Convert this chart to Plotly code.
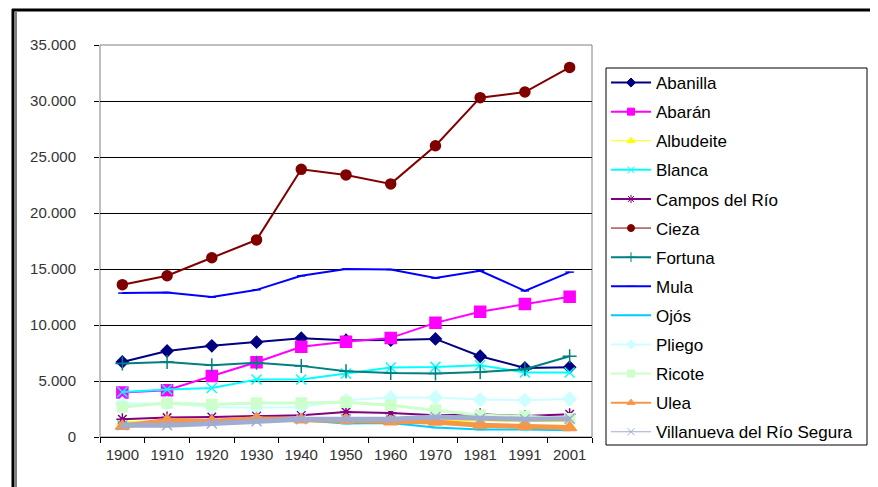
import plotly.graph_objects as go

years = ["1900", "1910", "1920", "1930", "1940", "1950", "1960", "1970", "1981", "1991", "2001"]

abanilla = [6700, 7680, 8140, 8470, 8820, 8640, 8650, 8760, 7210, 6170, 6230]
abaran = [3970, 4175, 5450, 6680, 8050, 8500, 8850, 10190, 11180, 11870, 12530]
albudeite = [1350, 1400, 1450, 1500, 1550, 1600, 1550, 1500, 1450, 1400, 1400]
blanca = [4020, 4240, 4380, 5130, 5130, 5670, 6200, 6260, 6410, 5760, 5760]
campos = [1580, 1730, 1790, 1880, 1940, 2240, 2150, 1940, 2030, 1880, 2030]
cieza = [13600, 14400, 16000, 17600, 23900, 23400, 22600, 26000, 30300, 30800, 33000]
fortuna = [6560, 6700, 6410, 6640, 6350, 5870, 5720, 5670, 5810, 6050, 7210]
mula = [12850, 12900, 12490, 13140, 14390, 15000, 14950, 14190, 14840, 13050, 14720]
ojos = [1200, 1150, 1200, 1340, 1490, 1200, 1250, 840, 660, 660, 600]
pliego = [2990, 3000, 2680, 2620, 2680, 3280, 3520, 3520, 3340, 3280, 3400]
ricote = [2680, 3040, 2900, 3040, 3040, 3100, 2830, 2390, 1940, 1850, 1640]
ulea = [960, 1490, 1400, 1640, 1550, 1490, 1370, 1340, 1045, 960, 840]
villanueva = [1045, 1045, 1200, 1400, 1580, 1580, 1580, 1790, 1640, 1580, 1640]

# name, values, colour, symbol, marker size, line width (chart), line width (legend)
series = [
    ("Abanilla", abanilla, "#000080", "diamond", 9, 2, 2),
    ("Abarán", abaran, "#FF00FF", "square", 11, 2, 2),
    ("Albudeite", albudeite, "#FFFF00", "triangle-up", 9, 2, 1),
    ("Blanca", blanca, "#00FFFF", "x-thin-open", 10, 2, 2),
    ("Campos del Río", campos, "#800080", "asterisk-open", 10, 2, 2),
    ("Cieza", cieza, "#800000", "circle", 10, 2, 1),
    ("Fortuna", fortuna, "#008080", "cross-thin-open", 10, 2, 2),
    ("Mula", mula, "#0000FF", "line-ew-open", 6, 2, 2),
    ("Ojós", ojos, "#00CCFF", "line-ew-open", 6, 2, 2),
    ("Pliego", pliego, "#CCFFFF", "diamond", 10, 2, 2),
    ("Ricote", ricote, "#CCFFCC", "square", 10, 3, 2),
    ("Ulea", ulea, "#F79646", "triangle-up", 12, 5, 2),
    ("Villanueva del Río Segura", villanueva, "#A0ACD0", "x-thin-open", 10, 5, 1),
]

fig = go.Figure()
for name, vals, color, sym, msize, lw, llw in series:
    fig.add_trace(go.Scatter(
        x=years, y=vals, name=name, mode="lines+markers",
        line=dict(color=color, width=lw),
        marker=dict(symbol=sym, size=msize, color=color,
                    line=dict(color=color, width=1.5)),
        showlegend=False, legendgroup=name,
    ))
# legend-only entries (thin lines, small markers as in the original legend)
for name, vals, color, sym, msize, lw, llw in series:
    fig.add_trace(go.Scatter(
        x=[None], y=[None], name=name, mode="lines+markers",
        line=dict(color=color, width=llw),
        marker=dict(symbol=sym, size=7, color=color,
                    line=dict(color=color, width=1)),
        showlegend=True, legendgroup=name, hoverinfo="skip",
    ))

OFF = 8  # default page body margin
W, H = 878 - OFF, 487 - OFF
L, R, T, B = 100 - OFF, 592 - OFF, 45 - OFF, 437 - OFF
pw, ph = R - L, B - T

def px(x):
    return (x - OFF - L) / pw

def py(y):
    return (B - (y - OFF)) / ph

shapes = [
    dict(type="rect", xref="paper", yref="paper", x0=0, x1=1, y0=0, y1=1,
         line=dict(color="#808080", width=1), layer="below"),
    dict(type="line", xref="paper", yref="paper", x0=px(12), x1=px(880), y0=py(10), y1=py(10),
         line=dict(color="black", width=3)),
    dict(type="line", xref="paper", yref="paper", x0=px(13), x1=px(13), y0=py(9), y1=py(490),
         line=dict(color="black", width=3)),
    dict(type="line", xref="paper", yref="paper", x0=px(16), x1=px(16), y0=py(12), y1=py(490),
         line=dict(color="black", width=1)),
    dict(type="rect", xref="paper", yref="paper", x0=px(606), x1=px(867), y0=py(68), y1=py(445),
         line=dict(color="black", width=1), fillcolor="rgba(0,0,0,0)"),
]

fig.update_layout(
    width=W, height=H,
    margin=dict(l=L, r=W - R, t=T, b=H - B, autoexpand=False),
    paper_bgcolor="white", plot_bgcolor="white",
    separators=",.",
    font=dict(family="Liberation Sans, Arial, sans-serif", color="#333333"),
    showlegend=True,
    legend=dict(
        x=px(606), y=py(65), xanchor="left", yanchor="top",
        bgcolor="rgba(0,0,0,0)", borderwidth=0,
        font=dict(size=17, color="black"),
        tracegroupgap=4,
        itemwidth=40,
    ),
    xaxis=dict(
        type="category", showgrid=False, zeroline=False,
        showline=True, linecolor="black", linewidth=1,
        ticks="outside", ticklen=5, tickcolor="black", tickson="boundaries",
        tickfont=dict(size=15, color="#333333"),
        ticklabelstandoff=4,
        range=[-0.5, 10.5],
    ),
    yaxis=dict(
        range=[0, 35000], dtick=5000, tickformat=",d",
        showgrid=True, gridcolor="black", gridwidth=1,
        zeroline=False, showline=False,
        ticks="outside", ticklen=5, tickcolor="black",
        tickfont=dict(size=15, color="#333333"),
        ticklabelstandoff=15,
    ),
    shapes=shapes,
)

fig.write_html("out.html")
